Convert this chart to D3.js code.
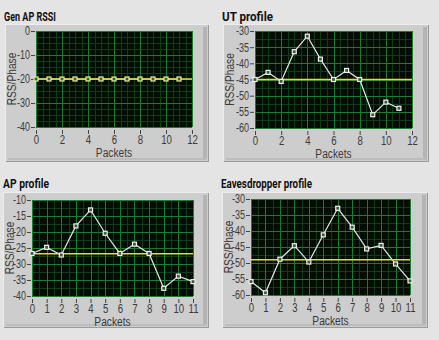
<!DOCTYPE html>
<html><head><meta charset="utf-8">
<script src="https://cdn.jsdelivr.net/npm/d3@7"></script>
<style>
body{margin:0;background:#e4e4e4;}
svg{display:block;}
</style></head>
<body>
<svg id="c" width="439" height="340"></svg>
<script>
const titles = ["Gen AP RSSI", "UT profile", "AP profile", "Eavesdropper profile"];
const packets = [0,1,2,3,4,5,6,7,8,9,10,11];
const genAP = [-20,-20,-20,-20,-20,-20,-20,-20,-20,-20,-20,-20];
const utProfile = [-45,-42.8,-45.6,-36.4,-31.6,-38.7,-45,-42.2,-45,-55.9,-52,-53.9];
const apProfile = [-26.7,-24.8,-27.2,-18.1,-13.1,-20.4,-26.7,-23.8,-26.7,-37.6,-33.8,-35.5];
const evProfile = [-55.8,-59.3,-48.8,-44.6,-49.7,-41.2,-32.9,-38.8,-45.6,-44.5,-50.3,-55.6];
const refLevels = [-20,-45,-26.8,-49];
const xDomains = [[0,12],[0,12],[0,11],[0,11]];
const yDomains = [[-40,0],[-60,-30],[-40,-10],[-60,-30]];
const xTicks = [[0,2,4,6,8,10,12],[0,2,4,6,8,10,12],[0,1,2,3,4,5,6,7,8,9,10,11],[0,1,2,3,4,5,6,7,8,9,10,11]];
const yTicks = [[0,-10,-20,-30,-40],[-30,-35,-40,-45,-50,-55,-60],[-10,-15,-20,-25,-30,-35,-40],[-30,-35,-40,-45,-50,-55,-60]];
const xMinor = [[1,3,5,7,9,11].flatMap(v=>[v-0.5,v,v+0.5]), [1,3,5,7,9,11].flatMap(v=>[v-0.5,v,v+0.5]), [0.5,1.5,2.5,3.5,4.5,5.5,6.5,7.5,8.5,9.5,10.5], [0.5,1.5,2.5,3.5,4.5,5.5,6.5,7.5,8.5,9.5,10.5]];
const yMinor = [[-2.5,-5,-7.5,-12.5,-15,-17.5,-22.5,-25,-27.5,-32.5,-35,-37.5],[-32.5,-37.5,-42.5,-47.5,-52.5,-57.5],[-12.5,-17.5,-22.5,-27.5,-32.5,-37.5],[-32.5,-37.5,-42.5,-47.5,-52.5,-57.5]];
const series = [genAP, utProfile, apProfile, evProfile];

const layout = [
  {fx:5, fy:24, fw:203, fh:137, tx:4, ty:21, tw:52, l:36, r:192, t:31, b:127},
  {fx:223, fy:24, fw:205, fh:137, tx:222, ty:21, tw:51, l:255, r:412, t:31, b:128},
  {fx:3, fy:192, fw:205, fh:135, tx:3, ty:188, tw:46, l:32, r:193, t:200, b:296},
  {fx:222, fy:192, fw:205, fh:135, tx:221, ty:188, tw:91, l:251, r:410, t:199, b:295}
];

const svg = d3.select("#c");
const FONT = "'Liberation Sans',Arial,sans-serif";

function condense(sel, f){
  sel.each(function(){
    const len = this.getComputedTextLength();
    d3.select(this).attr("textLength", len*f).attr("lengthAdjust","spacingAndGlyphs");
  });
}

layout.forEach((L,i)=>{
  const g = svg.append("g");
  g.append("rect").attr("x",L.fx+1).attr("y",L.fy+1).attr("width",L.fw).attr("height",L.fh).attr("fill","#9a9a9a");
  g.append("rect").attr("x",L.fx).attr("y",L.fy).attr("width",L.fw).attr("height",L.fh).attr("fill","#cdcdcd");
  g.append("line").attr("x1",L.fx).attr("x2",L.fx+L.fw).attr("y1",L.fy+0.5).attr("y2",L.fy+0.5).attr("stroke","#ededed");
  g.append("line").attr("x1",L.fx+0.5).attr("x2",L.fx+0.5).attr("y1",L.fy).attr("y2",L.fy+L.fh).attr("stroke","#ededed");
  g.append("rect").attr("x",L.fx+L.fw-5).attr("y",L.fy+3).attr("width",4).attr("height",L.fh-4).attr("fill","#b4b4b4");
  g.append("rect").attr("x",L.fx+3).attr("y",L.fy+L.fh-3).attr("width",L.fw-4).attr("height",2).attr("fill","#bcbcbc");

  g.append("text").attr("x",L.tx).attr("y",L.ty).text(titles[i])
    .attr("font-family","Roboto,'Liberation Sans',sans-serif").attr("font-weight","bold").attr("font-size",12).attr("fill","#111")
    .attr("textLength",L.tw).attr("lengthAdjust","spacingAndGlyphs");

  const x = d3.scaleLinear().domain(xDomains[i]).range([L.l,L.r]);
  const y = d3.scaleLinear().domain(yDomains[i]).range([L.b,L.t]);

  g.append("rect").attr("x",L.l).attr("y",L.t).attr("width",L.r-L.l).attr("height",L.b-L.t).attr("fill","#030d04");
  g.selectAll(null).data(xMinor[i]).join("line")
    .attr("x1",d=>Math.round(x(d))+0.5).attr("x2",d=>Math.round(x(d))+0.5).attr("y1",L.t).attr("y2",L.b)
    .attr("stroke","#0e3c16").attr("stroke-width",1);
  g.selectAll(null).data(yMinor[i]).join("line")
    .attr("y1",d=>Math.round(y(d))+0.5).attr("y2",d=>Math.round(y(d))+0.5).attr("x1",L.l).attr("x2",L.r)
    .attr("stroke","#0e3c16").attr("stroke-width",1);
  g.selectAll(null).data(xTicks[i]).join("line")
    .attr("x1",d=>Math.round(x(d))+0.5).attr("x2",d=>Math.round(x(d))+0.5).attr("y1",L.t).attr("y2",L.b)
    .attr("stroke","#1d7b2c").attr("stroke-width",1);
  g.selectAll(null).data(yTicks[i]).join("line")
    .attr("y1",d=>Math.round(y(d))+0.5).attr("y2",d=>Math.round(y(d))+0.5).attr("x1",L.l).attr("x2",L.r)
    .attr("stroke","#1d7b2c").attr("stroke-width",1);

  const xa = g.append("g").attr("transform",`translate(0,${L.b+3})`)
    .call(d3.axisBottom(x).tickValues(xTicks[i]).tickSize(4).tickSizeOuter(0).tickPadding(1).tickFormat(d3.format("d")));
  xa.select(".domain").remove();
  xa.selectAll("line").attr("stroke","#444");
  xa.selectAll("text").attr("font-family",FONT).attr("font-size",12).attr("fill","#3a3a3a");
  condense(xa.selectAll("text"), 0.8);
  const ya = g.append("g").attr("transform",`translate(${L.l-1},0)`)
    .call(d3.axisLeft(y).tickValues(yTicks[i]).tickSize(4).tickSizeOuter(0).tickPadding(1).tickFormat(d=>String(d)));
  ya.select(".domain").remove();
  ya.selectAll("line").attr("stroke","#444");
  ya.selectAll("text").attr("font-family",FONT).attr("font-size",12).attr("fill","#3a3a3a");
  condense(ya.selectAll("text"), 0.75);

  const pk = g.append("text").attr("x",(L.l+L.r)/2).attr("y",L.b+30).attr("text-anchor","middle").text("Packets")
    .attr("font-family",FONT).attr("font-size",12).attr("fill","#3a3a3a");
  condense(pk, 0.85);
  const rl = g.append("text").attr("transform",`translate(${L.fx+7},${(L.t+L.b)/2}) rotate(-90)`).attr("text-anchor","middle")
    .attr("dominant-baseline","central").text("RSS/Phase").attr("font-family",FONT).attr("font-size",12).attr("fill","#3a3a3a");
  condense(rl, 0.85);

  const line = d3.line().x((d,k)=>x(packets[k])).y(d=>y(d));
  g.append("path").datum(series[i]).attr("d",line).attr("fill","none").attr("stroke","#e6e6e6").attr("stroke-width",1.2);
  g.append("line").attr("x1",L.l).attr("x2",L.r).attr("y1",y(refLevels[i])).attr("y2",y(refLevels[i]))
    .attr("stroke","#dcdc3a").attr("stroke-width",1.6);
  g.selectAll(null).data(series[i]).join("rect")
    .attr("x",(d,k)=>x(packets[k])-2).attr("y",d=>y(d)-2).attr("width",4).attr("height",4)
    .attr("fill","#3d5a3d").attr("stroke", i===0 ? "#eeee90" : "#f0f0f0").attr("stroke-width",1.2);
});
</script>
</body></html>
